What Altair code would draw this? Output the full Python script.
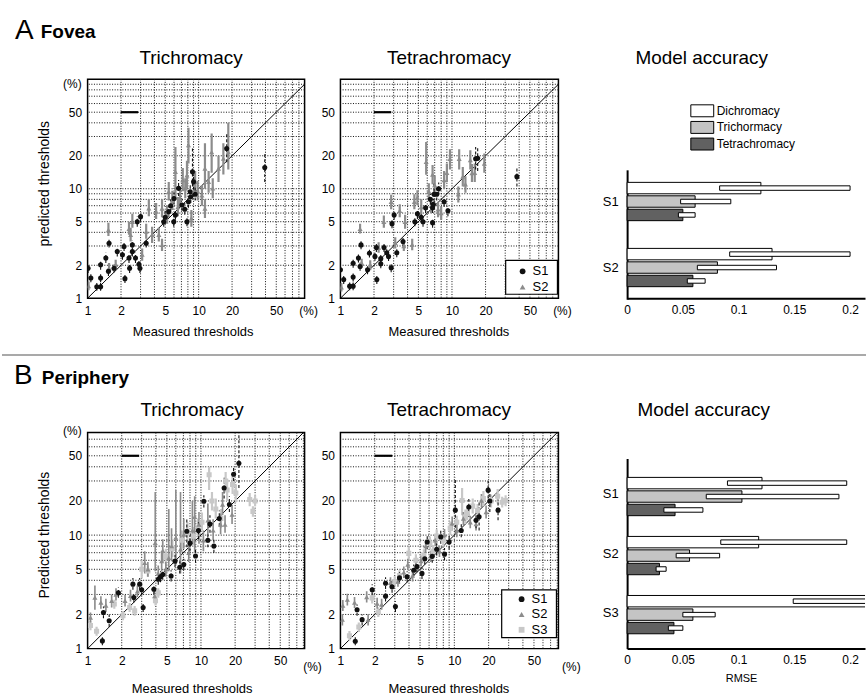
import altair as alt
import pandas as pd

FONT = "Liberation Sans"

# ---------------- axis values ----------------
tick_vals = [1, 2, 5, 10, 20, 50]
grid_vals = [2, 3, 4, 5, 6, 7, 8, 9, 10, 20, 30, 40, 50, 60, 70, 80, 90]
diag_vals = [1, 100]
scale_bar = [2.0, 2.85, 50]  # x start, x end, y level
bar_ticks = [0, 0.05, 0.1, 0.15, 0.2]

# ---------------- A (Fovea) Trichromacy ----------------
a1_s1_x = [1.01, 1.07, 1.21, 1.31, 1.31, 1.31, 1.46, 1.56, 1.54, 1.73, 1.85, 2.06, 2.13, 2.17, 2.36, 2.39, 2.53, 2.53, 2.70, 2.90, 2.96, 2.80, 3.00, 3.37, 4.85, 5.38, 5.97, 6.18, 7.07, 7.85, 8.10, 8.40, 8.80, 8.50, 6.60, 6.00, 9.00, 17.9, 39.4, 5.0, 5.6, 7.5, 9.3]
a1_s1_y = [1.88, 1.53, 1.27, 1.27, 1.53, 2.02, 2.33, 3.18, 1.76, 1.88, 2.67, 2.50, 2.97, 1.51, 2.33, 1.88, 3.07, 2.67, 2.33, 2.04, 1.88, 5.00, 5.56, 3.18, 5.00, 6.18, 5.00, 5.76, 7.10, 5.00, 7.60, 9.40, 14.3, 8.44, 10.1, 8.15, 11.6, 23.3, 15.6, 5.5, 7.0, 6.5, 8.9]
a1_s1_lo = [1.70, 1.40, 1.17, 1.17, 1.40, 1.82, 2.10, 2.90, 1.60, 1.72, 2.40, 2.25, 2.70, 1.38, 2.10, 1.70, 2.75, 2.40, 2.10, 1.85, 1.70, 4.50, 5.00, 2.90, 4.50, 5.50, 4.50, 5.20, 6.30, 4.55, 6.70, 8.20, 10.5, 7.40, 8.60, 7.20, 9.80, 17.5, 11.5, 4.8, 6.2, 5.8, 7.8]
a1_s1_hi = [2.10, 1.68, 1.38, 1.38, 1.68, 2.25, 2.60, 3.50, 1.95, 2.05, 2.95, 2.75, 3.30, 1.65, 2.60, 2.08, 3.40, 2.95, 2.60, 2.25, 2.08, 5.60, 6.20, 3.50, 5.60, 7.00, 5.60, 6.40, 8.10, 5.50, 8.60, 10.8, 24.0, 9.60, 12.0, 9.30, 13.8, 32.0, 21.0, 6.4, 8.0, 7.4, 10.2]

a1_s2_x = [1.02, 1.54, 1.56, 1.79, 2.44, 2.53, 2.36, 3.10, 3.37, 3.56, 3.81, 4.14, 4.38, 4.68, 5.20, 5.38, 6.18, 6.50, 6.80, 7.58, 7.85, 8.10, 8.60, 9.30, 10.7, 11.4, 11.4, 12.3, 13.1, 13.4, 15.1, 16.7, 18.5, 4.68, 5.8, 7.2, 9.8]
a1_s2_y = [1.29, 4.20, 1.88, 2.02, 3.79, 5.00, 4.30, 2.50, 4.06, 6.62, 3.80, 6.20, 3.80, 3.07, 5.80, 9.40, 14.3, 6.80, 8.15, 10.1, 13.3, 25.0, 5.37, 11.6, 8.70, 15.3, 6.60, 11.6, 21.6, 10.1, 15.3, 18.9, 21.6, 6.60, 7.8, 12.0, 9.5]
a1_s2_lo = [1.18, 3.70, 1.70, 1.82, 3.30, 4.40, 3.80, 2.20, 3.50, 5.60, 3.20, 5.30, 3.30, 2.70, 4.80, 7.80, 8.00, 5.60, 6.80, 8.20, 10.0, 17.0, 4.50, 9.20, 7.00, 10.0, 5.40, 9.20, 14.0, 8.20, 11.5, 13.5, 15.0, 5.5, 6.4, 9.5, 7.8]
a1_s2_hi = [1.42, 4.90, 2.10, 2.25, 4.40, 5.90, 5.00, 2.85, 4.80, 8.00, 4.50, 7.40, 4.40, 3.50, 7.00, 11.5, 24.0, 8.40, 10.0, 12.5, 18.0, 36.0, 6.40, 14.5, 10.8, 26.0, 8.00, 14.5, 32.0, 12.5, 20.0, 26.0, 40.0, 8.0, 9.6, 15.5, 11.8]

# ---------------- A (Fovea) Tetrachromacy ----------------
a2_s1_x = [1.00, 1.07, 1.21, 1.30, 1.30, 1.30, 1.45, 1.53, 1.50, 1.75, 1.82, 2.04, 2.10, 2.12, 2.30, 2.30, 2.46, 2.60, 2.70, 2.85, 3.03, 2.90, 3.20, 3.64, 4.65, 4.90, 5.30, 5.50, 5.80, 6.70, 6.40, 6.80, 6.70, 7.30, 6.90, 7.60, 16.3, 17.0, 38.2, 8.5, 9.2]
a2_s1_y = [1.82, 1.48, 1.29, 1.29, 1.56, 2.09, 2.33, 3.07, 1.95, 1.82, 2.58, 2.41, 2.90, 1.48, 2.30, 2.06, 2.90, 2.60, 2.40, 1.90, 5.76, 4.80, 2.60, 3.30, 5.00, 5.90, 5.50, 5.00, 6.70, 6.70, 8.00, 7.20, 4.90, 8.90, 8.90, 10.0, 18.8, 19.0, 12.9, 7.6, 6.3]
a2_s1_lo = [1.65, 1.35, 1.18, 1.18, 1.42, 1.90, 2.12, 2.80, 1.78, 1.66, 2.35, 2.20, 2.65, 1.35, 2.10, 1.88, 2.65, 2.37, 2.19, 1.73, 5.20, 4.35, 2.37, 3.00, 4.55, 5.30, 4.95, 4.50, 6.00, 6.00, 7.10, 6.40, 4.40, 7.80, 7.60, 8.90, 15.0, 14.5, 10.5, 6.8, 5.6]
a2_s1_hi = [2.00, 1.62, 1.41, 1.41, 1.71, 2.30, 2.55, 3.36, 2.13, 1.99, 2.83, 2.64, 3.18, 1.62, 2.52, 2.26, 3.18, 2.85, 2.63, 2.08, 6.35, 5.30, 2.85, 3.62, 5.50, 6.50, 6.10, 5.50, 7.50, 7.50, 9.00, 8.10, 5.40, 10.2, 11.5, 11.4, 24.0, 23.5, 15.5, 8.5, 7.0]

a2_s2_x = [1.02, 1.50, 1.55, 1.85, 2.20, 2.45, 2.85, 3.10, 3.40, 3.70, 3.80, 4.40, 4.60, 4.90, 5.30, 5.87, 6.20, 6.50, 6.70, 7.00, 7.50, 8.00, 9.00, 9.60, 11.6, 12.5, 13.2, 14.6, 15.1, 16.0, 19.5, 11.4, 8.5]
a2_s2_y = [1.26, 4.30, 2.10, 2.00, 2.90, 5.00, 7.60, 3.20, 6.30, 3.00, 5.00, 3.10, 7.60, 8.30, 6.80, 17.6, 9.50, 7.00, 13.5, 10.8, 6.50, 6.00, 14.0, 18.8, 18.8, 12.9, 11.0, 18.3, 13.9, 14.0, 17.0, 8.90, 12.0]
a2_s2_lo = [1.15, 3.90, 1.90, 1.80, 2.60, 4.40, 6.50, 2.85, 5.50, 2.70, 4.30, 2.75, 6.50, 7.10, 5.80, 13.4, 8.00, 6.00, 11.0, 8.80, 5.50, 5.20, 11.5, 15.0, 15.0, 10.5, 9.20, 15.0, 11.5, 11.5, 14.0, 7.50, 10.0]
a2_s2_hi = [1.38, 4.80, 2.30, 2.22, 3.25, 5.70, 8.80, 3.60, 7.20, 3.35, 5.80, 3.50, 8.90, 9.70, 8.00, 26.7, 11.2, 8.20, 16.5, 13.2, 7.60, 6.90, 17.0, 23.0, 23.0, 15.8, 13.0, 22.5, 16.8, 17.0, 21.0, 10.5, 14.5]

# ---------------- B (Periphery) Trichromacy ----------------
b1_s1_x = [1.35, 1.38, 1.55, 1.87, 2.51, 2.56, 2.88, 3.09, 3.00, 3.84, 4.20, 4.40, 4.60, 5.45, 5.90, 7.05, 7.50, 8.00, 8.95, 10.6, 11.5, 13.0, 12.0, 16.0, 17.8, 19.4, 21.6, 6.5, 9.5, 14.5]
b1_s1_y = [1.17, 2.08, 1.76, 3.10, 3.70, 2.82, 3.70, 2.30, 3.30, 3.33, 4.08, 4.30, 4.50, 4.37, 5.90, 5.50, 10.8, 8.50, 6.55, 19.9, 9.00, 8.00, 12.5, 26.0, 18.6, 34.4, 43.0, 5.2, 11.0, 14.0]
b1_s1_lo = [1.07, 1.85, 1.55, 2.80, 3.30, 2.55, 3.30, 2.10, 2.95, 3.00, 3.65, 3.85, 4.05, 3.90, 5.20, 4.90, 7.80, 7.20, 5.70, 17.5, 7.80, 7.00, 10.5, 21.0, 16.0, 30.0, 26.0, 4.6, 9.2, 12.0]
b1_s1_hi = [1.30, 2.35, 2.00, 3.45, 4.20, 3.12, 4.20, 2.55, 3.70, 3.70, 4.55, 4.80, 5.00, 4.90, 6.70, 6.20, 14.0, 10.5, 7.50, 22.5, 10.5, 9.20, 15.0, 32.0, 22.0, 40.0, 80.0, 5.9, 13.0, 16.5]

b1_s2_x = [1.06, 1.16, 1.31, 1.45, 1.63, 1.78, 2.14, 2.39, 2.75, 3.19, 3.40, 3.95, 3.90, 4.50, 4.60, 4.90, 5.50, 6.00, 7.05, 7.80, 8.40, 9.60, 10.5, 11.5, 12.8, 14.9, 16.3, 18.8, 15.5, 4.2, 5.2, 6.6, 8.8]
b1_s2_y = [1.88, 2.82, 2.55, 2.40, 2.64, 3.00, 2.64, 2.92, 3.20, 5.70, 5.00, 8.55, 2.90, 5.90, 7.30, 5.00, 8.00, 9.50, 10.1, 7.00, 11.0, 12.4, 9.00, 13.5, 11.0, 12.4, 12.4, 15.2, 18.6, 4.6, 6.3, 7.5, 14.5]
b1_s2_lo = [1.70, 2.20, 2.25, 2.10, 2.30, 2.65, 2.35, 2.60, 2.85, 4.60, 4.30, 4.80, 2.55, 4.80, 5.80, 4.30, 5.90, 5.50, 7.60, 5.80, 8.50, 8.40, 7.20, 10.0, 9.00, 10.2, 10.5, 12.5, 15.0, 3.9, 4.8, 4.6, 7.0]
b1_s2_hi = [2.08, 3.60, 2.90, 2.75, 3.00, 3.40, 2.98, 3.30, 3.60, 7.20, 5.80, 24.0, 3.25, 7.20, 9.20, 5.80, 11.5, 25.0, 14.0, 8.50, 20.0, 16.0, 11.0, 19.0, 13.8, 15.5, 15.0, 18.5, 24.0, 5.4, 17.0, 24.0, 22.0]

b1_s3_x = [1.06, 1.20, 1.72, 2.05, 2.35, 3.00, 3.40, 3.97, 4.20, 4.90, 5.60, 6.80, 7.60, 8.60, 9.40, 10.2, 11.8, 13.5, 15.0, 17.0, 19.0, 20.3, 26.9, 28.7, 30.0, 12.5, 16.5, 2.6]
b1_s3_y = [1.60, 1.42, 2.47, 1.95, 2.30, 5.00, 4.83, 2.64, 3.10, 6.50, 7.60, 9.00, 10.5, 9.80, 11.6, 13.0, 34.0, 17.0, 14.0, 25.0, 27.9, 23.5, 20.6, 16.2, 20.0, 20.0, 30.0, 2.15]
b1_s3_lo = [1.45, 1.30, 2.25, 1.78, 2.10, 4.20, 4.30, 2.40, 2.80, 5.60, 6.40, 7.60, 8.80, 8.20, 9.60, 11.0, 25.0, 14.0, 11.5, 20.0, 23.0, 19.5, 18.0, 14.5, 18.0, 16.5, 24.0, 1.95]
b1_s3_hi = [1.76, 1.56, 2.70, 2.15, 2.52, 6.00, 5.40, 2.90, 3.40, 7.60, 9.00, 11.0, 13.0, 11.8, 14.0, 15.8, 40.0, 21.0, 17.0, 31.0, 33.0, 28.0, 23.5, 18.0, 22.5, 24.0, 36.0, 2.38]

# ---------------- B (Periphery) Tetrachromacy ----------------
b2_s1_x = [1.35, 1.40, 1.55, 1.90, 2.49, 2.49, 2.84, 3.04, 3.30, 3.85, 4.40, 5.20, 5.50, 5.78, 6.40, 7.60, 8.20, 9.00, 10.2, 11.5, 13.4, 15.5, 16.5, 19.8, 20.5, 24.2, 7.0, 4.7]
b2_s1_y = [1.16, 2.20, 1.80, 3.30, 3.77, 2.90, 3.50, 2.35, 4.20, 4.30, 4.90, 4.60, 6.20, 8.70, 6.50, 9.65, 6.80, 8.70, 16.6, 11.0, 17.7, 13.5, 14.5, 24.9, 20.0, 16.6, 7.5, 5.3]
b2_s1_lo = [1.07, 1.95, 1.60, 2.95, 3.35, 2.60, 3.10, 2.10, 3.75, 3.85, 4.35, 4.10, 5.50, 7.50, 5.70, 8.40, 6.00, 7.50, 10.5, 9.60, 14.5, 11.5, 11.0, 21.0, 16.0, 13.5, 6.6, 4.7]
b2_s1_hi = [1.27, 2.45, 2.00, 3.70, 4.25, 3.25, 3.95, 2.62, 4.70, 4.80, 5.50, 5.20, 7.00, 10.0, 7.40, 11.0, 7.70, 10.0, 32.0, 12.6, 21.5, 16.0, 20.0, 30.0, 25.0, 20.5, 8.5, 6.0]

b2_s2_x = [1.04, 1.05, 1.15, 1.33, 1.70, 1.75, 2.10, 2.30, 2.75, 3.60, 3.90, 4.60, 5.10, 5.60, 6.20, 6.80, 7.40, 8.20, 9.57, 10.5, 12.0, 13.8, 15.5, 17.3, 19.0, 3.2, 4.3]
b2_s2_y = [1.80, 2.40, 2.70, 2.55, 2.85, 1.80, 2.50, 2.45, 3.80, 4.70, 5.50, 5.30, 5.90, 8.00, 6.50, 9.00, 7.20, 10.0, 12.7, 11.0, 14.0, 13.0, 12.5, 20.2, 16.0, 3.9, 4.4]
b2_s2_lo = [1.60, 2.15, 2.40, 2.28, 2.55, 1.60, 2.25, 2.20, 3.40, 4.20, 4.90, 4.70, 5.30, 7.00, 5.80, 8.00, 6.40, 8.90, 11.0, 9.60, 12.2, 11.5, 11.0, 17.5, 14.0, 3.5, 3.9]
b2_s2_hi = [2.02, 2.68, 3.05, 2.85, 3.20, 2.02, 2.80, 2.75, 4.25, 5.30, 6.20, 6.00, 6.60, 9.10, 7.30, 10.1, 8.10, 11.3, 14.6, 12.6, 16.0, 14.8, 14.2, 23.0, 18.2, 4.4, 5.0]

b2_s3_x = [1.20, 1.90, 2.15, 3.00, 3.30, 3.98, 4.60, 5.40, 6.10, 7.00, 8.00, 9.20, 10.5, 11.7, 13.0, 14.5, 16.0, 18.0, 21.0, 24.0, 26.3, 28.2, 1.45, 6.5, 12.5]
b2_s3_y = [1.30, 2.80, 2.10, 3.90, 4.40, 6.90, 6.00, 6.60, 8.50, 9.80, 9.00, 11.5, 13.0, 20.2, 15.5, 18.0, 16.5, 21.0, 20.0, 22.0, 19.5, 20.2, 1.55, 7.2, 14.5]
b2_s3_lo = [1.18, 2.50, 1.90, 3.50, 3.95, 6.00, 5.30, 5.80, 7.50, 8.60, 7.90, 10.0, 11.4, 15.0, 13.5, 15.5, 14.5, 18.0, 17.5, 19.0, 17.5, 18.0, 1.40, 6.3, 12.5]
b2_s3_hi = [1.43, 3.10, 2.32, 4.35, 4.90, 7.90, 6.80, 7.50, 9.70, 11.2, 10.2, 13.2, 14.8, 26.0, 17.8, 21.0, 18.8, 24.5, 22.8, 25.5, 21.8, 22.5, 1.70, 8.2, 16.8]

# ---------------- Model accuracy (RMSE) ----------------
models = ["Dichromacy", "Trichormacy", "Tetrachromacy"]
a_subjects = ["S1", "S2"]
a_rmse = [0.120, 0.061, 0.050, 0.130, 0.081, 0.059]
a_rmse_lo = [0.083, 0.048, 0.046, 0.092, 0.063, 0.054]
a_rmse_hi = [0.200, 0.093, 0.061, 0.200, 0.134, 0.070]
b_subjects = ["S1", "S2", "S3"]
b_rmse = [0.121, 0.103, 0.043, 0.118, 0.056, 0.029, 0.250, 0.059, 0.042]
b_rmse_lo = [0.090, 0.071, 0.033, 0.084, 0.044, 0.026, 0.149, 0.050, 0.037]
b_rmse_hi = [0.197, 0.190, 0.068, 0.197, 0.083, 0.035, 0.250, 0.079, 0.050]

# ---------------- styles ----------------
SUBJ_COLOR = {"S1": "#111111", "S2": "#8c8c8c", "S3": "#c8c8c8"}
SUBJ_SHAPE = {"S1": "circle", "S2": "triangle-up", "S3": "square"}
SUBJ_DASH = {"S1": [3, 2], "S2": [1, 0], "S3": [1, 0]}
SUBJ_WIDTH = {"S1": 1.1, "S2": 2.2, "S3": 2.2}
MODEL_FILL = ["#ffffff", "#c4c4c4", "#616161"]
BAR_LEFT = 33  # empty strip to the left of the RMSE axis inside the bar panel


def label(text, x, y, size=12, weight="normal", align="center",
          baseline="middle", angle=0, color="black"):
    return alt.Chart(pd.DataFrame({"t": [text]})).mark_text(
        font=FONT, fontSize=size, fontWeight=weight, align=align,
        baseline=baseline, angle=angle, color=color
    ).encode(x=alt.value(x), y=alt.value(y), text="t:N")


def box(x0, x1, y0, y1, fill="white", sw=1.2):
    return alt.Chart(pd.DataFrame({"t": [0]})).mark_rect(
        fill=fill, stroke="black", strokeWidth=sw).encode(
        x=alt.value(x0), x2=alt.value(x1), y=alt.value(y0), y2=alt.value(y1))


def subject_legend(subs, x0, x1, y0, y1, sym_x, lab_x, row0, pitch):
    """Legend box with one symbol + label per subject (layout only)."""
    layers = [box(x0, x1, y0, y1)]
    for i, s in enumerate(subs):
        yy = row0 + i * pitch
        layers.append(alt.Chart(pd.DataFrame({"subject": [s]})).mark_point(
            filled=True, opacity=1, size=34, shape=SUBJ_SHAPE[s],
            color=SUBJ_COLOR[s]).encode(x=alt.value(sym_x), y=alt.value(yy)))
        layers.append(label(s, lab_x, yy, size=13, align="left"))
    return layers


def model_legend(x0, x1, lab_x, row0, pitch, hh):
    layers = []
    for i, (m, f) in enumerate(zip(models, MODEL_FILL)):
        top = row0 + i * pitch
        layers.append(box(x0, x1, top, top + hh, fill=f, sw=1))
        layers.append(label(m, lab_x, top + hh / 2, size=12, align="left"))
    return layers


def scatter_panel(series, xmax, ymax, w, h, texts, pre=None, post=None):
    rows = []
    for name, xs_, ys_, lo_, hi_ in series:
        for a, b, c, d in zip(xs_, ys_, lo_, hi_):
            rows.append({"subject": name, "mx": a, "py": b,
                         "lo": c, "hi": d})
    df = pd.DataFrame(rows)
    subs = sorted({s[0] for s in series})
    xsc = alt.Scale(type="log", domain=[1, xmax], nice=False)
    ysc = alt.Scale(type="log", domain=[1, ymax], nice=False)
    ax_x = alt.Axis(values=tick_vals, format="~g", grid=False, ticks=False,
                    domain=False, labelFont=FONT, labelFontSize=12,
                    labelColor="black", labelPadding=7, title=None,
                    labelFlush=False)
    ax_y = alt.Axis(values=tick_vals, format="~g", grid=False, ticks=False,
                    domain=False, labelFont=FONT, labelFontSize=12,
                    labelColor="black", labelPadding=6, title=None,
                    labelFlush=False)
    gx = pd.DataFrame({"g": [v for v in grid_vals if v < xmax]})
    gy = pd.DataFrame({"g": [v for v in grid_vals if v < ymax]})
    vgrid = alt.Chart(gx).mark_rule(color="#111111", strokeWidth=1,
                                    strokeDash=[1, 1.6]).encode(
        x=alt.X("g:Q", scale=xsc, axis=ax_x))
    hgrid = alt.Chart(gy).mark_rule(color="#111111", strokeWidth=1,
                                    strokeDash=[1, 1.6]).encode(
        y=alt.Y("g:Q", scale=ysc, axis=ax_y))
    diag = alt.Chart(pd.DataFrame({"d": diag_vals})).mark_line(
        color="black", strokeWidth=1, clip=True).encode(
        x=alt.X("d:Q", scale=xsc, axis=ax_x),
        y=alt.Y("d:Q", scale=ysc, axis=ax_y))
    sbar = alt.Chart(pd.DataFrame({"x0": [scale_bar[0]], "x1": [scale_bar[1]],
                                   "yy": [scale_bar[2]]})).mark_rule(
        color="black", strokeWidth=2.2).encode(
        x=alt.X("x0:Q", scale=xsc, axis=ax_x), x2="x1:Q",
        y=alt.Y("yy:Q", scale=ysc, axis=ax_y))
    errs = alt.Chart(df).mark_rule(clip=True).encode(
        x=alt.X("mx:Q", scale=xsc, axis=ax_x),
        y=alt.Y("lo:Q", scale=ysc, axis=ax_y), y2="hi:Q",
        stroke=alt.Stroke("subject:N", legend=None, scale=alt.Scale(
            domain=subs, range=[SUBJ_COLOR[s] for s in subs])),
        strokeDash=alt.StrokeDash("subject:N", legend=None, scale=alt.Scale(
            domain=subs, range=[SUBJ_DASH[s] for s in subs])),
        strokeWidth=alt.StrokeWidth("subject:N", legend=None, scale=alt.Scale(
            domain=subs, range=[SUBJ_WIDTH[s] for s in subs])),
    )
    cscale = alt.Scale(domain=subs, range=[SUBJ_COLOR[s] for s in subs])
    sscale = alt.Scale(domain=subs, range=[SUBJ_SHAPE[s] for s in subs])
    pts = alt.Chart(df).mark_point(filled=True, opacity=1, size=26,
                                   clip=True).encode(
        x=alt.X("mx:Q", scale=xsc, axis=ax_x),
        y=alt.Y("py:Q", scale=ysc, axis=ax_y),
        color=alt.Color("subject:N", scale=cscale, legend=None),
        shape=alt.Shape("subject:N", scale=sscale, legend=None))
    layers = ((pre or []) + [vgrid, hgrid, diag, sbar, errs, pts]
              + (post or []) + texts)
    return alt.layer(*layers).properties(
        width=w, height=h,
        view=alt.ViewBackground(stroke="black", strokeWidth=1.5))


def bar_panel(subjects, vals, los, his, yrange, pad_outer, h, texts):
    df = pd.DataFrame({
        "subject": [s for s in subjects for _ in models],
        "model": models * len(subjects),
        "v": vals, "lo": los, "hi": his})
    xsc = alt.Scale(domain=[0, 0.2134], nice=False, zero=False,
                    range=[BAR_LEFT, BAR_LEFT + 239])
    ax_x = alt.Axis(values=bar_ticks, format="~g", grid=False, ticks=False,
                    domainColor="black", domainWidth=2, labelFont=FONT,
                    labelFontSize=12, labelColor="black", labelPadding=6,
                    title=None, labelFlush=False)
    ysc = alt.Scale(domain=subjects, range=yrange, paddingInner=0.42,
                    paddingOuter=pad_outer)
    ax_y = alt.Axis(grid=False, ticks=False, domainColor="black",
                    domainWidth=2, labelFont=FONT, labelFontSize=13,
                    labelColor="black", labelPadding=9, title=None,
                    offset=-BAR_LEFT)
    yoff = alt.YOffset("model:N", scale=alt.Scale(domain=models,
                                                  paddingInner=0.15,
                                                  paddingOuter=0))
    col = alt.Color("model:N", scale=alt.Scale(domain=models,
                                               range=MODEL_FILL), legend=None)
    bars = alt.Chart(df).mark_bar(stroke="black", strokeWidth=1,
                                  clip=True).encode(
        x=alt.X("v:Q", scale=xsc, axis=ax_x),
        y=alt.Y("subject:N", scale=ysc, axis=ax_y),
        yOffset=yoff, color=col)
    errs = alt.Chart(df).mark_bar(fill="white", stroke="black",
                                  strokeWidth=1, size=4.5, clip=True).encode(
        x=alt.X("lo:Q", scale=xsc, axis=ax_x), x2="hi:Q",
        y=alt.Y("subject:N", scale=ysc, axis=ax_y),
        yOffset=yoff)
    return alt.layer(bars, errs, *texts).properties(
        width=BAR_LEFT + 239, height=h,
        view=alt.ViewBackground(stroke="transparent"))


canvas = alt.Chart(pd.DataFrame({"t": [0]})).mark_rect(
    fill="white", fillOpacity=0, strokeOpacity=0).encode(
    x=alt.value(-86), x2=alt.value(782), y=alt.value(-77), y2=alt.value(619))
divider = alt.Chart(pd.DataFrame({"t": [0]})).mark_rule(
    color="#8c8c8c", strokeWidth=1.5).encode(
    x=alt.value(-86), x2=alt.value(782), y=alt.value(277))

A1 = scatter_panel(
    [("S2", a1_s2_x, a1_s2_y, a1_s2_lo, a1_s2_hi),
     ("S1", a1_s1_x, a1_s1_y, a1_s1_lo, a1_s1_hi)],
    90, 100, 218, 220,
    [label("A", -73, -40, size=28, align="left", baseline="alphabetic"),
     label("Fovea", -47, -41, size=19, weight="bold", align="left",
           baseline="alphabetic"),
     label("Trichromacy", 104, -15, size=19, baseline="alphabetic"),
     label("predicted thresholds", -43, 105, size=14, angle=270),
     label("Measured thresholds", 106, 254, size=13),
     label("(%)", -6, 5, size=12, align="right"),
     label("(%)", 222, 233, size=12)],
    pre=[canvas, divider])

A2 = scatter_panel(
    [("S2", a2_s2_x, a2_s2_y, a2_s2_lo, a2_s2_hi),
     ("S1", a2_s1_x, a2_s1_y, a2_s1_lo, a2_s1_hi)],
    90, 100, 219, 220,
    [label("Tetrachromacy", 109, -15, size=19, baseline="alphabetic"),
     label("Measured thresholds", 109, 254, size=13),
     label("(%)", 223, 233, size=12)],
    post=subject_legend(["S1", "S2"], 166, 218, 182, 216, 183, 193,
                        193, 15.7))

A3 = bar_panel(a_subjects, a_rmse, a_rmse_lo, a_rmse_hi, [91, 221], 0.19,
               220,
               [label("Model accuracy", BAR_LEFT + 75, -15, size=19,
                      baseline="alphabetic")]
               + model_legend(BAR_LEFT + 64, BAR_LEFT + 87, BAR_LEFT + 90,
                              25.7, 16.7, 12))

B1 = scatter_panel(
    [("S3", b1_s3_x, b1_s3_y, b1_s3_lo, b1_s3_hi),
     ("S2", b1_s2_x, b1_s2_y, b1_s2_lo, b1_s2_hi),
     ("S1", b1_s1_x, b1_s1_y, b1_s1_lo, b1_s1_hi)],
    82, 80, 218, 217,
    [label("B", -74, -49, size=28, align="left", baseline="alphabetic"),
     label("Periphery", -46, -49, size=19, weight="bold", align="left",
           baseline="alphabetic"),
     label("Trichromacy", 105, -17, size=19, baseline="alphabetic"),
     label("Predicted thresholds", -43, 103, size=14, angle=270),
     label("Measured thresholds", 105, 258, size=13),
     label("(%)", -6, -2, size=12, align="right"),
     label("(%)", 226, 235, size=12)])

B2 = scatter_panel(
    [("S3", b2_s3_x, b2_s3_y, b2_s3_lo, b2_s3_hi),
     ("S2", b2_s2_x, b2_s2_y, b2_s2_lo, b2_s2_hi),
     ("S1", b2_s1_x, b2_s1_y, b2_s1_lo, b2_s1_hi)],
    82, 80, 219, 217,
    [label("Tetrachromacy", 109, -17, size=19, baseline="alphabetic"),
     label("Measured thresholds", 109, 258, size=13),
     label("(%)", 232, 235, size=12)],
    post=subject_legend(["S1", "S2", "S3"], 162, 217, 158, 206, 182, 192,
                        167.3, 15.4))

B3 = bar_panel(b_subjects, b_rmse, b_rmse_lo, b_rmse_hi, [26, 217], 0.32,
               217,
               [label("Model accuracy", BAR_LEFT + 77, -17, size=19,
                      baseline="alphabetic"),
                label("RMSE", BAR_LEFT + 115, 248, size=11)])

RES = dict(x="independent", y="independent", color="independent",
           shape="independent", stroke="independent",
           strokeDash="independent", strokeWidth="independent")

chart = alt.concat(
    A1, A2, A3, B1, B2, B3, columns=3,
    spacing={"row": 135, "column": 36}, bounds="flush"
).resolve_scale(**RES).properties(padding=0).configure(
    font=FONT).configure_view(stroke=None)

chart.save("out.html", embed_options={"renderer": "svg", "actions": False})
